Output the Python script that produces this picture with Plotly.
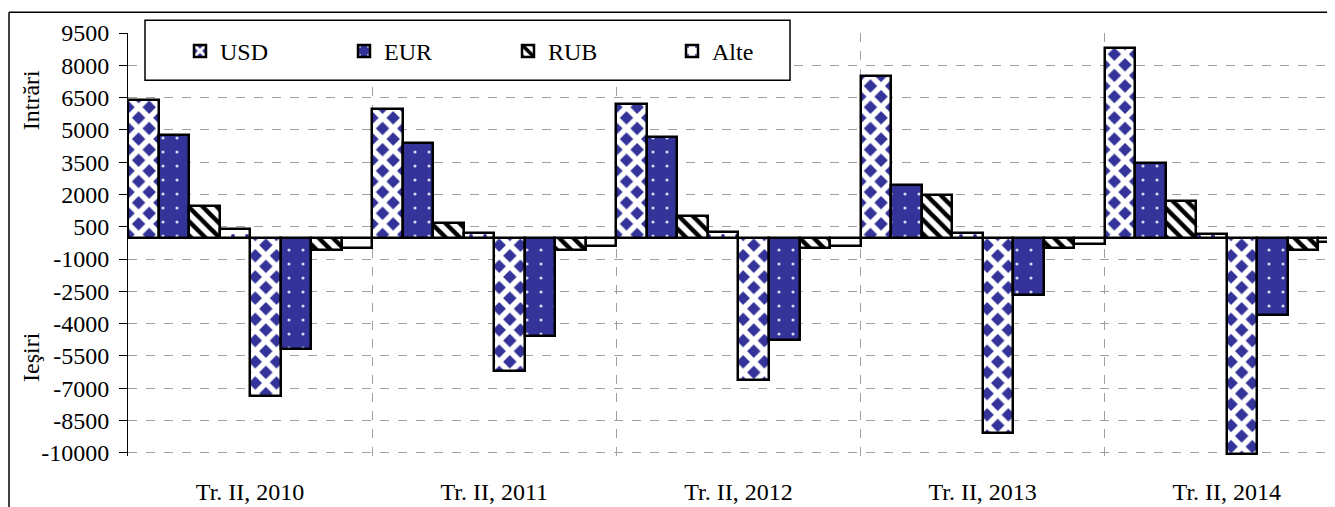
import plotly.graph_objects as go

categories = ["Tr. II, 2010", "Tr. II, 2011", "Tr. II, 2012", "Tr. II, 2013", "Tr. II, 2014"]
currencies = ["USD", "EUR", "RUB", "Alte"]

usd_in = [6400, 5950, 6200, 7500, 8800]
eur_in = [4780, 4400, 4680, 2430, 3480]
rub_in = [1480, 660, 980, 1990, 1680]
alte_in = [410, 210, 240, 200, 150]

usd_out = [-7350, -6200, -6620, -9090, -10080]
eur_out = [-5180, -4560, -4770, -2650, -3600]
rub_out = [-590, -570, -480, -510, -560]
alte_out = [-510, -390, -390, -310, -200]

y_ticks = [-10000, -8500, -7000, -5500, -4000, -2500, -1000, 500, 2000, 3500, 5000, 6500, 8000, 9500]
y_tick_labels = [str(v) for v in y_ticks]

BLUE = "#333399"
FONT = "Liberation Serif"
FS = 24

patterns = {
    "USD": dict(shape="x", fgcolor="white", bgcolor=BLUE, size=15, solidity=0.6, fillmode="replace"),
    "EUR": dict(shape=".", fgcolor="#d8d8f0", bgcolor=BLUE, size=14, solidity=0.04, fillmode="replace"),
    "RUB": dict(shape="\\", fgcolor="black", bgcolor="white", size=10, solidity=0.45, fillmode="replace"),
    "Alte": dict(shape=".", fgcolor=BLUE, bgcolor="white", size=14, solidity=0.06, fillmode="replace"),
}

ins = {"USD": usd_in, "EUR": eur_in, "RUB": rub_in, "Alte": alte_in}
outs = {"USD": usd_out, "EUR": eur_out, "RUB": rub_out, "Alte": alte_out}

fig = go.Figure()
for c in currencies:
    fig.add_trace(go.Bar(
        x=categories, y=ins[c], name=c, legendgroup=c, showlegend=True,
        marker=dict(color="white", pattern=patterns[c], line=dict(color="black", width=2.5)),
    ))
for c in currencies:
    fig.add_trace(go.Bar(
        x=categories, y=outs[c], name=c, legendgroup=c, showlegend=False,
        marker=dict(color="white", pattern=patterns[c], line=dict(color="black", width=2.5)),
    ))

# page is offset by the 8px body margin
OFF = 8
W, H = 1335 - OFF, 507 - OFF
ML, MT = 128 - OFF, 32.7 - OFF
PB = 456.2 - OFF           # plot bottom in div coords
MB = H - PB
pw = W - ML
ph = PB - MT

def px_x(page_x):
    return (page_x - OFF - ML) / pw

def px_y(page_y):
    return 1 - (page_y - OFF - MT) / ph

shapes = [
    # legend box
    dict(type="rect", xref="paper", yref="paper", x0=px_x(145), x1=px_x(790), y0=px_y(80), y1=px_y(20),
         line=dict(color="black", width=1.5), fillcolor="white", layer="above"),
    # outer chart frame (left & top)
    dict(type="line", xref="paper", yref="paper", x0=px_x(9), x1=px_x(9), y0=px_y(12), y1=px_y(520),
         line=dict(color="black", width=1.5)),
    dict(type="line", xref="paper", yref="paper", x0=px_x(9), x1=px_x(1400), y0=px_y(12), y1=px_y(12),
         line=dict(color="black", width=1.5)),
]

annotations = [
    dict(text="Intrări", xref="paper", yref="paper", x=px_x(31), y=px_y(100), textangle=-90,
         xanchor="center", yanchor="middle",
         showarrow=False, font=dict(family=FONT, size=FS, color="black")),
    dict(text="Ieşiri", xref="paper", yref="paper", x=px_x(31), y=px_y(357), textangle=-90,
         xanchor="center", yanchor="middle",
         showarrow=False, font=dict(family=FONT, size=FS, color="black")),
]

fig.update_layout(
    template="none",
    width=W, height=H,
    margin=dict(l=ML, r=0, t=MT, b=MB, autoexpand=False),
    paper_bgcolor="white", plot_bgcolor="white",
    barmode="group", bargap=0, bargroupgap=0,
    font=dict(family=FONT, size=FS, color="black"),
    shapes=shapes, annotations=annotations,
    legend=dict(orientation="h", x=px_x(180), xanchor="left", y=px_y(51), yanchor="middle",
                bgcolor="rgba(0,0,0,0)", borderwidth=0, font=dict(family=FONT, size=FS, color="black"),
                entrywidth=119, entrywidthmode="pixels", itemwidth=30, traceorder="normal"),
    xaxis=dict(type="category", range=[-0.5, 4.443], tickson="boundaries", showgrid=True,
               gridcolor="#a0a0a0", griddash="dash", gridwidth=1, ticks="", showline=False,
               ticklabelstandoff=19, zeroline=False, automargin=False,
               tickfont=dict(family=FONT, size=FS, color="black")),
    yaxis=dict(range=[-10150, 9500], tickvals=y_ticks, ticktext=y_tick_labels, showgrid=True,
               gridcolor="#a0a0a0", griddash="dash", gridwidth=1, showline=True, linecolor="black",
               linewidth=1, ticks="outside", ticklen=8, tickcolor="black", ticklabelstandoff=5,
               zeroline=True, zerolinecolor="black", zerolinewidth=1.5, automargin=False,
               tickfont=dict(family=FONT, size=FS, color="black")),
)

fig.write_html("out.html")
